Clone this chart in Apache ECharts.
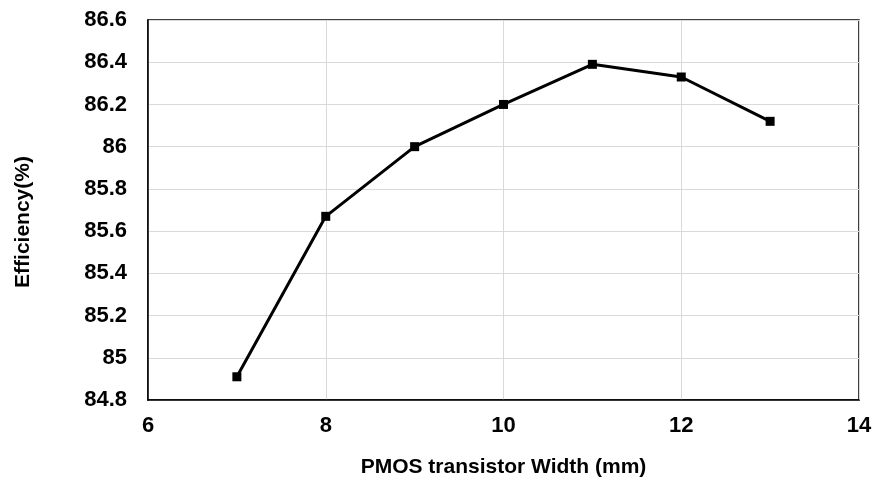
<!DOCTYPE html>
<html>
<head>
<meta charset="utf-8">
<script src="https://cdn.jsdelivr.net/npm/echarts@6/dist/echarts.min.js"></script>
<style>
  html, body { margin: 0; padding: 0; background: #fff; }
  #chart { width: 875px; height: 484px; }
</style>
</head>
<body>
<div id="chart"></div>
<script>
// PMOS transistor width (mm) versus converter efficiency (%)
const widths = [7, 8, 9, 10, 11, 12, 13];
const efficiency = [84.91, 85.67, 86.0, 86.2, 86.39, 86.33, 86.12];

const xTitle = 'PMOS transistor Width (mm)';
const yTitle = 'Efficiency(%)';

const font = 'Liberation Sans, Arial, sans-serif';
const chart = echarts.init(document.getElementById('chart'), null, { renderer: 'canvas' });

chart.setOption({
  animation: false,
  backgroundColor: '#ffffff',
  grid: {
    left: 148, right: 16, top: 20, bottom: 84,
    show: true, borderColor: '#000', borderWidth: 1.5
  },
  xAxis: {
    type: 'value',
    min: 6, max: 14, interval: 2,
    name: xTitle,
    nameLocation: 'middle',
    nameGap: 57,
    nameTextStyle: { fontFamily: font, fontWeight: 'bold', fontSize: 21, color: '#000' },
    axisLine: { show: true, lineStyle: { color: '#000', width: 1.5 } },
    axisTick: { show: false },
    axisLabel: { fontFamily: font, fontWeight: 'bold', fontSize: 22, color: '#000', margin: 15 },
    splitLine: { show: true, lineStyle: { color: '#d9d9d9', width: 1 } }
  },
  yAxis: {
    type: 'value',
    min: 84.8, max: 86.6, interval: 0.2,
    name: yTitle,
    nameLocation: 'middle',
    nameGap: 114,
    nameRotate: 90,
    nameTextStyle: { fontFamily: font, fontWeight: 'bold', fontSize: 21, color: '#000', padding: [0, 24, 0, 0] },
    axisLine: { show: true, lineStyle: { color: '#000', width: 1.5 } },
    axisTick: { show: false },
    axisLabel: {
      fontFamily: font, fontWeight: 'bold', fontSize: 22, color: '#000', margin: 21,
      formatter: v => String(Math.round(v * 10) / 10)
    },
    splitLine: { show: true, lineStyle: { color: '#d9d9d9', width: 1 } }
  },
  series: [{
    type: 'line',
    data: widths.map((w, i) => [w, efficiency[i]]),
    symbol: 'rect',
    symbolSize: 9,
    lineStyle: { color: '#000', width: 3 },
    itemStyle: { color: '#000' }
  }]
});
</script>
</body>
</html>
